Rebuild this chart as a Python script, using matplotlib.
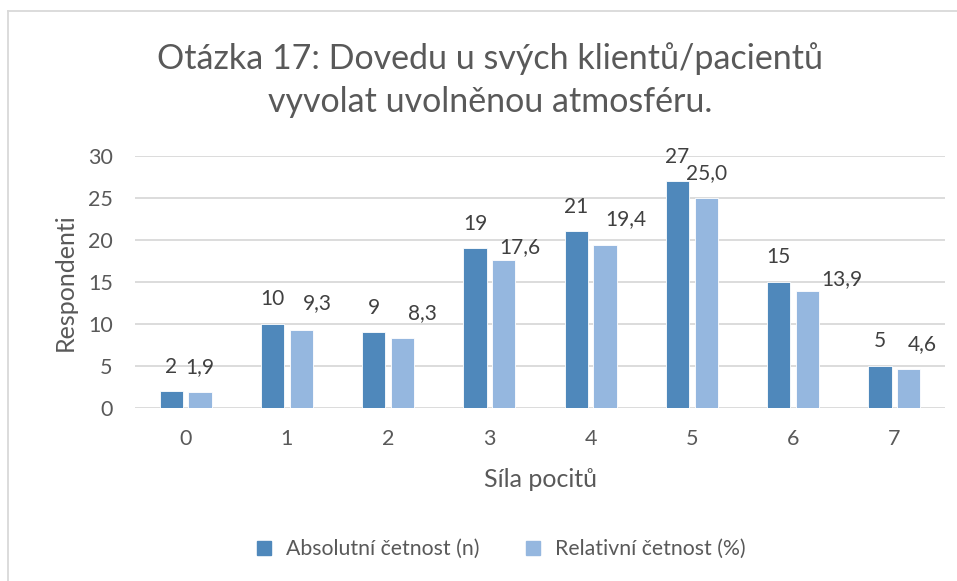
import matplotlib
matplotlib.use("Agg")
import matplotlib.pyplot as plt
from matplotlib.lines import Line2D
import numpy as np

categories = ["0", "1", "2", "3", "4", "5", "6", "7"]
absolutni = [2, 10, 9, 19, 21, 27, 15, 5]
relativni = [1.9, 9.3, 8.3, 17.6, 19.4, 25.0, 13.9, 4.6]
series_names = ["Absolutní četnost (n)", "Relativní četnost (%)"]
title = "Otázka 17: Dovedu u svých klientů/pacientů\nvyvolat uvolněnou atmosféru."

# the % labels were dragged by hand in the original; nudges in pixels (dx, dy)
rel_nudge = [(0, 0), (16, 2), (20, 1), (16, -12), (21, 1), (0, 0), (34, -12), (13, 1)]

W, H = 957, 581
PT = 72 / 100  # px -> points at dpi 100
plt.rcParams["font.family"] = ["Lato", "DejaVu Sans"]
TXT = "#595959"
DARK, LIGHT = "#4F88BB", "#95B7DF"

fig = plt.figure(figsize=(W / 100, H / 100), dpi=100)
ax = fig.add_axes([135 / W, 1 - 407.7 / H, (945 - 135) / W, (407.7 - 155.7) / H])

x = np.arange(len(categories))
w, off = 0.23, 0.143
b1 = ax.bar(x - off, absolutni, w, color=DARK, edgecolor="white", linewidth=0.6, zorder=3)
b2 = ax.bar(x + off, relativni, w, color=LIGHT, edgecolor="white", linewidth=0.6, zorder=3)

base = 24.3  # px from bar top to label centre
for b, v in zip(b1, absolutni):
    ax.annotate(f"{v:d}", (b.get_x() + b.get_width() / 2, v),
                xytext=(0, base * PT), textcoords="offset points",
                ha="center", va="center", fontsize=15, color="#404040")
for b, v, (dx, dy) in zip(b2, relativni, rel_nudge):
    ax.annotate(f"{v:.1f}".replace(".", ","), (b.get_x() + b.get_width() / 2, v),
                xytext=(dx * PT, (base + dy) * PT), textcoords="offset points",
                ha="center", va="center", fontsize=15, color="#404040")

ax.set_xlim(-0.5, len(categories) - 0.5)
ax.set_ylim(0, 30)
ax.set_yticks(range(0, 31, 5))
ax.set_xticks(x, categories)
ax.grid(axis="y", color="#D9D9D9", lw=1.3, zorder=0)
ax.set_axisbelow(True)
for s in ax.spines.values():
    s.set_visible(False)
ax.tick_params(length=0, labelsize=15.5, colors=TXT)
ax.tick_params(axis="y", pad=16)
ax.tick_params(axis="x", pad=15)
ax.set_xlabel("Síla pocitů", fontsize=18, color=TXT, labelpad=14)
ax.set_ylabel("Respondenti", fontsize=18, color=TXT, labelpad=8)

fig.text(490 / W, 1 - 80 / H, title, ha="center", va="center", fontsize=24.5,
         color=TXT, linespacing=1.4)

handles = [Line2D([], [], marker="s", ls="", ms=10, color=c) for c in (DARK, LIGHT)]
fig.legend(handles, series_names, loc="center", bbox_to_anchor=(494 / W, 1 - 549 / H),
           ncol=2, frameon=False, fontsize=15.3, handletextpad=0.05, columnspacing=1.5,
           labelcolor=TXT)

# chart border
fig.add_artist(Line2D([8 / W, 8 / W], [0, 1 - 11 / H], color="#D9D9D9", lw=1.3))
fig.add_artist(Line2D([8 / W, 1], [1 - 11 / H, 1 - 11 / H], color="#D9D9D9", lw=1.3))

fig.savefig("out.png", dpi=100)
